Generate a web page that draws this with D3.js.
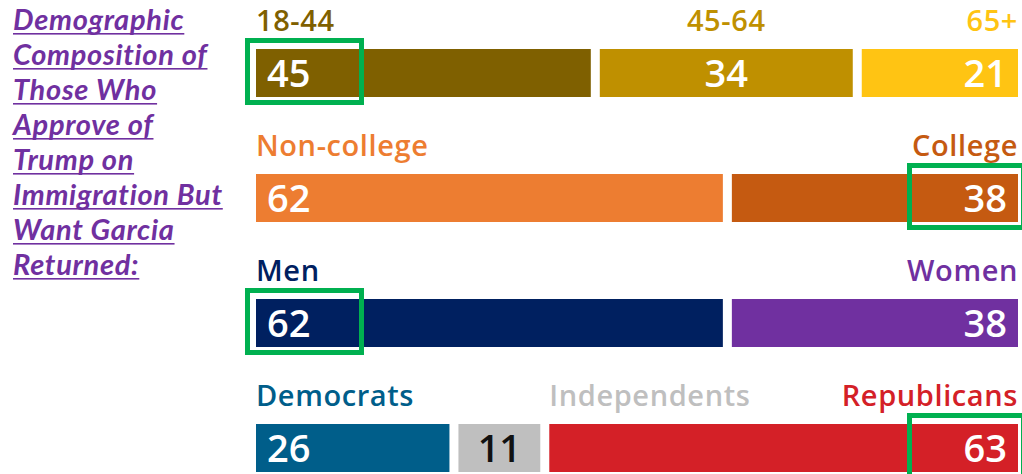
<!DOCTYPE html>
<html lang="en">
<head>
  <meta charset="UTF-8" />
  <title>Demographic Composition</title>
  <style>
    html, body {
      margin: 0;
      padding: 0;
      background: #fff;
    }
    svg {
      display: block;
      font-family: "Open Sans", Lato, sans-serif;
    }
  </style>
</head>
<body>
<svg id="chart" width="1022" height="474"></svg>

<script src="https://d3js.org/d3.v7.min.js"></script>
<script>
  // Title lines (left side)
  const titleLines = [
    "Demographic",
    "Composition of",
    "Those Who",
    "Approve of",
    "Trump on",
    "Immigration But",
    "Want Garcia",
    "Returned:"
  ];

  // One row per demographic split
  const rowKeys = ["age", "education", "gender", "party"];

  const ageLabels = ["18-44", "45-64", "65+"];
  const ageValues = [45, 34, 21];

  const educationLabels = ["Non-college", "College"];
  const educationValues = [62, 38];

  const genderLabels = ["Men", "Women"];
  const genderValues = [62, 38];

  const partyLabels = ["Democrats", "Independents", "Republicans"];
  const partyValues = [26, 11, 63];

  // segment highlighted with a green box, per row
  const highlighted = ["18-44", "College", "Men", "Republicans"];

  const colors = {
    "18-44": "#7f6000",
    "45-64": "#bf9000",
    "65+": "#ffc413",
    "Non-college": "#ed7d31",
    "College": "#c55a11",
    "Men": "#002060",
    "Women": "#7030a0",
    "Democrats": "#005e8a",
    "Independents": "#bfbfbf",
    "Republicans": "#d42027"
  };
  const valueColors = { "Independents": "#111" };

  const rows = [
    { key: "age", labels: ageLabels, values: ageValues },
    { key: "education", labels: educationLabels, values: educationValues },
    { key: "gender", labels: genderLabels, values: genderValues },
    { key: "party", labels: partyLabels, values: partyValues }
  ];

  const svg = d3.select("#chart");

  // ---- title ----
  const purple = "#7030a0";
  const title = svg.append("g");
  titleLines.forEach((line, i) => {
    const t = title.append("text")
      .attr("x", 13)
      .attr("y", 30 + i * 35)
      .attr("fill", purple)
      .attr("font-family", "Lato, sans-serif")
      .attr("font-size", 29)
      .attr("font-weight", 700)
      .attr("font-style", "italic")
      .attr("letter-spacing", 0.7)
      .text(line);
    const w = t.node().getComputedTextLength();
    title.append("rect")
      .attr("x", 13)
      .attr("y", 33 + i * 35)
      .attr("width", w)
      .attr("height", 1.6)
      .attr("fill", purple);
  });

  // ---- bars ----
  const left = 256, right = 1018, gap = 9;
  const barH = 48;

  const y = d3.scaleBand()
    .domain(rowKeys)
    .range([49, 49 + 3 * 125 + barH])
    .paddingInner(1 - barH / 125)
    .paddingOuter(0);

  rows.forEach(row => {
    const n = row.values.length;
    const total = d3.sum(row.values);
    const x = d3.scaleLinear()
      .domain([0, total])
      .range([0, right - left - gap * (n - 1)]);

    let cum = 0;
    const segs = row.values.map((v, i) => {
      const x0 = left + x(cum) + gap * i;
      cum += v;
      const x1 = left + x(cum) + gap * i;
      return { label: row.labels[i], value: v, x0, x1, i, n };
    });

    const y0 = y(row.key);
    const g = svg.append("g");

    g.selectAll("rect.bar")
      .data(segs)
      .enter().append("rect")
      .attr("class", "bar")
      .attr("x", d => d.x0)
      .attr("y", y0)
      .attr("width", d => d.x1 - d.x0)
      .attr("height", y.bandwidth())
      .attr("fill", d => colors[d.label]);

    // value labels inside bars
    g.selectAll("text.val")
      .data(segs)
      .enter().append("text")
      .attr("class", "val")
      .attr("x", d => d.i === 0 ? d.x0 + 11 : (d.i === d.n - 1 ? d.x1 - 11 : (d.x0 + d.x1) / 2))
      .attr("y", y0 + 38)
      .attr("text-anchor", d => d.i === 0 ? "start" : (d.i === d.n - 1 ? "end" : "middle"))
      .attr("font-size", 38)
      .attr("font-weight", 600)
      .attr("fill", d => valueColors[d.label] || "#fff")
      .text(d => d.value);

    // category labels above bars
    g.selectAll("text.cat")
      .data(segs)
      .enter().append("text")
      .attr("class", "cat")
      .attr("y", y0 - 18)
      .attr("font-size", 29)
      .attr("font-weight", 600)
      .attr("letter-spacing", 0.6)
      .attr("fill", d => colors[d.label])
      .text(d => d.label)
      .each(function(d) {
        const t = d3.select(this);
        const w = this.getComputedTextLength();
        if (d.i === 0) {
          t.attr("x", d.x0).attr("text-anchor", "start");
        } else if (d.i === d.n - 1) {
          t.attr("x", d.x1).attr("text-anchor", "end");
        } else if (w > d.x1 - d.x0) {
          // too wide for its segment: start over the next one
          t.attr("x", d.x1 + gap).attr("text-anchor", "start");
        } else {
          t.attr("x", (d.x0 + d.x1) / 2).attr("text-anchor", "middle");
        }
      });

    // green highlight box
    const h = segs.find(d => highlighted.includes(d.label));
    if (h) {
      const bw = 114;
      const bx = h.i === 0 ? h.x0 - 8.5 : h.x1 - 108.5;
      g.append("rect")
        .attr("x", bx)
        .attr("y", y0 - 8.5)
        .attr("width", bw)
        .attr("height", barH + 14)
        .attr("fill", "none")
        .attr("stroke", "#00b050")
        .attr("stroke-width", 5);
    }
  });
</script>
</body>
</html>
